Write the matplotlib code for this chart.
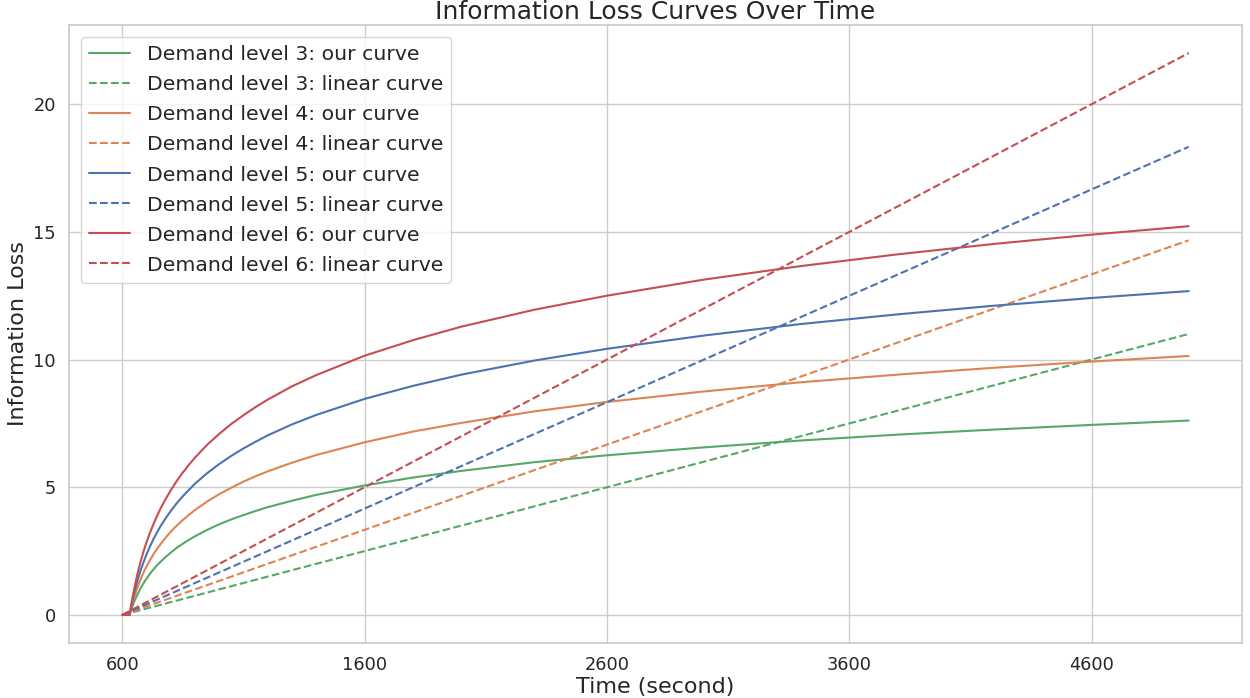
import matplotlib
matplotlib.use('Agg')
import matplotlib.pyplot as plt
import seaborn as sns

# --- Data ---
time_points = [600, 630, 640, 650, 660, 675, 690, 700, 715, 730, 745, 760, 780, 800, 825,
               850, 875, 900, 950, 1000, 1050, 1100, 1150, 1200, 1300, 1400, 1600, 1800,
               2000, 2300, 2600, 3000, 3400, 3800, 4200, 4600, 5000]

our_level3 = [0, 0, 0.29, 0.54, 0.75, 1.04, 1.28, 1.42, 1.62, 1.80, 1.96, 2.10, 2.28, 2.44, 2.63,
              2.79, 2.94, 3.08, 3.33, 3.55, 3.74, 3.91, 4.07, 4.22, 4.47, 4.70, 5.07, 5.38,
              5.64, 5.98, 6.25, 6.56, 6.83, 7.06, 7.26, 7.44, 7.61]
our_level4 = [0, 0, 0.39, 0.72, 1.01, 1.38, 1.71, 1.90, 2.16, 2.40, 2.61, 2.80, 3.04, 3.26, 3.50,
              3.72, 3.92, 4.11, 4.44, 4.73, 4.98, 5.22, 5.43, 5.62, 5.96, 6.26, 6.76, 7.18,
              7.52, 7.97, 8.34, 8.75, 9.11, 9.41, 9.68, 9.92, 10.14]
our_level5 = [0, 0, 0.48, 0.90, 1.26, 1.73, 2.13, 2.37, 2.70, 3.00, 3.26, 3.51, 3.80, 4.07, 4.38,
              4.65, 4.90, 5.14, 5.55, 5.91, 6.23, 6.52, 6.78, 7.03, 7.46, 7.83, 8.46, 8.97,
              9.41, 9.96, 10.42, 10.94, 11.39, 11.77, 12.11, 12.41, 12.68]
our_level6 = [0, 0, 0.58, 1.07, 1.51, 2.08, 2.56, 2.85, 3.24, 3.59, 3.91, 4.21, 4.56, 4.88, 5.25,
              5.58, 5.88, 6.16, 6.66, 7.09, 7.48, 7.82, 8.14, 8.43, 8.95, 9.39, 10.15, 10.76,
              11.29, 11.95, 12.50, 13.13, 13.66, 14.12, 14.53, 14.89, 15.22]

linear_time = [600, 5000]
linear_level3 = [0, 11.0]
linear_level4 = [0, 14.67]
linear_level5 = [0, 18.33]
linear_level6 = [0, 22.0]

levels = [3, 4, 5, 6]
our_curves = [our_level3, our_level4, our_level5, our_level6]
linear_curves = [linear_level3, linear_level4, linear_level5, linear_level6]
xticks = [600, 1600, 2600, 3600, 4600]

# --- Plot ---
sns.set_theme(style="whitegrid")
deep = sns.color_palette("deep")
colors = [deep[2], deep[1], deep[0], deep[3]]  # green, orange, blue, red

fig, ax = plt.subplots(figsize=(12.5, 6.98), dpi=100)
fig.subplots_adjust(left=0.0552, right=0.9936, top=0.9642, bottom=0.0788)

for level, ours, lin, c in zip(levels, our_curves, linear_curves, colors):
    ax.plot(time_points, ours, color=c, linewidth=1.5, label=f'Demand level {level}: our curve')
    ax.plot(linear_time, lin, color=c, linewidth=1.5, linestyle='--',
            label=f'Demand level {level}: linear curve')

ax.set_xticks(xticks)
ax.tick_params(axis='both', labelsize=12.8)
ax.set_xlabel('Time (second)', fontsize=16, labelpad=2)
ax.set_ylabel('Information Loss', fontsize=16)
ax.set_title('Information Loss Curves Over Time', fontsize=18, pad=4)
ax.legend(loc='upper left', fontsize=14.7, labelspacing=0.54, borderaxespad=0.6)

plt.savefig('out.png', dpi=100)
